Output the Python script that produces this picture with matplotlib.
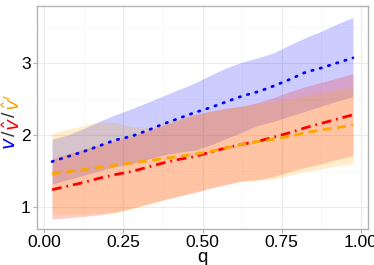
import matplotlib
matplotlib.use("Agg")
import matplotlib.pyplot as plt
import numpy as np
from matplotlib.ticker import MultipleLocator

q = [0.025, 0.075, 0.125, 0.175, 0.225, 0.275, 0.325, 0.375, 0.425, 0.475,
     0.525, 0.575, 0.625, 0.675, 0.725, 0.775, 0.825, 0.875, 0.925, 0.975]

v_mean = [1.63, 1.70, 1.77, 1.85, 1.93, 1.98, 2.06, 2.15, 2.23, 2.31,
          2.38, 2.46, 2.54, 2.60, 2.68, 2.77, 2.87, 2.93, 3.00, 3.07]
v_lo = [1.32, 1.38, 1.44, 1.50, 1.56, 1.60, 1.66, 1.72, 1.76, 1.79,
        1.86, 1.95, 2.04, 2.13, 2.19, 2.26, 2.33, 2.40, 2.47, 2.53]
v_hi = [1.94, 2.00, 2.09, 2.19, 2.28, 2.36, 2.45, 2.54, 2.63, 2.72,
        2.83, 2.93, 3.01, 3.07, 3.14, 3.25, 3.35, 3.44, 3.54, 3.63]

vh_mean = [1.24, 1.29, 1.34, 1.40, 1.45, 1.49, 1.55, 1.61, 1.66, 1.70,
           1.76, 1.82, 1.87, 1.91, 1.97, 2.03, 2.10, 2.16, 2.22, 2.28]
vh_lo = [0.83, 0.85, 0.87, 0.89, 0.93, 0.98, 1.04, 1.10, 1.15, 1.20,
         1.26, 1.31, 1.36, 1.38, 1.42, 1.49, 1.55, 1.60, 1.66, 1.71]
vh_hi = [1.67, 1.74, 1.80, 1.86, 1.92, 1.98, 2.05, 2.13, 2.21, 2.28,
         2.33, 2.37, 2.40, 2.45, 2.52, 2.60, 2.67, 2.73, 2.79, 2.85]

vp_mean = [1.46, 1.49, 1.52, 1.55, 1.58, 1.61, 1.64, 1.67, 1.70, 1.73,
           1.77, 1.82, 1.87, 1.91, 1.94, 1.98, 2.03, 2.07, 2.10, 2.14]
vp_lo = [0.89, 0.90, 0.90, 0.91, 0.92, 0.97, 1.03, 1.09, 1.15, 1.21,
         1.27, 1.32, 1.36, 1.37, 1.39, 1.44, 1.49, 1.53, 1.57, 1.60]
vp_hi = [2.02, 2.08, 2.13, 2.18, 2.17, 2.12, 2.10, 2.16, 2.22, 2.28,
         2.33, 2.37, 2.40, 2.44, 2.47, 2.51, 2.55, 2.59, 2.63, 2.67]

x_ticks = [0.00, 0.25, 0.50, 0.75, 1.00]
x_ticklabels = ["0.00", "0.25", "0.50", "0.75", "1.00"]
y_ticks = [1, 2, 3]
y_ticklabels = ["1", "2", "3"]

BLUE = "#0000FF"
RED = "#FF0000"
ORANGE = "#FFA500"

plt.rcParams['font.family'] = ['Liberation Sans', 'DejaVu Sans']

fig = plt.figure(figsize=(3.74, 2.65), dpi=100)
ax = fig.add_axes([37/374, 36/265, 331/374, 223/265])

ax.fill_between(q, v_lo, v_hi, color=BLUE, alpha=0.2, linewidth=0)
ax.fill_between(q, vh_lo, vh_hi, color=RED, alpha=0.2, linewidth=0)
ax.fill_between(q, vp_lo, vp_hi, color=ORANGE, alpha=0.2, linewidth=0)

ax.plot(q, v_mean, color=BLUE, lw=2.0, linestyle=(0, (0.5, 2.6)), dash_capstyle='round')
ax.plot(q, vh_mean, color=RED, lw=2.0, linestyle=(0, (3.5, 1.8, 0.6, 1.8)))
ax.plot(q, vp_mean, color=ORANGE, lw=2.0, linestyle=(0, (3.2, 2.0)))

ax.set_xlim(-0.0225, 1.0225)
ax.set_ylim(0.694, 3.79)
ax.set_xticks(x_ticks)
ax.set_xticklabels(x_ticklabels)
ax.set_yticks(y_ticks)
ax.set_yticklabels(y_ticklabels)
ax.xaxis.set_minor_locator(MultipleLocator(0.125))
ax.yaxis.set_minor_locator(MultipleLocator(0.5))

ax.set_axisbelow(True)
ax.grid(which='major', color='#ebebeb', lw=0.8)
ax.grid(which='minor', color='#f5f5f5', lw=0.5)
for s in ax.spines.values():
    s.set_color('#b3b3b3')
    s.set_linewidth(1.0)
ax.tick_params(which='major', length=3, color='#b3b3b3', width=0.8,
               labelsize=12.5, labelcolor='black', pad=1.5)
ax.tick_params(which='minor', length=0)

ax.set_xlabel("q", fontsize=13.5, labelpad=-1)

# multi-coloured y label
parts = [("$v$", BLUE), ("/", "#333333"), ("$\\hat{v}$", RED), ("/", "#333333"), ("$\\hat{v}'$", ORANGE)]
t = fig.text(0.006, 0.435, parts[0][0], color=parts[0][1], rotation=90,
             fontsize=14, ha='left', va='bottom')
for txt, col in parts[1:]:
    t = ax.annotate(txt, xycoords=t, xy=(0, 1), color=col, rotation=90,
                    fontsize=14, ha='left', va='bottom', annotation_clip=False)

fig.savefig("out.png", dpi=100)
